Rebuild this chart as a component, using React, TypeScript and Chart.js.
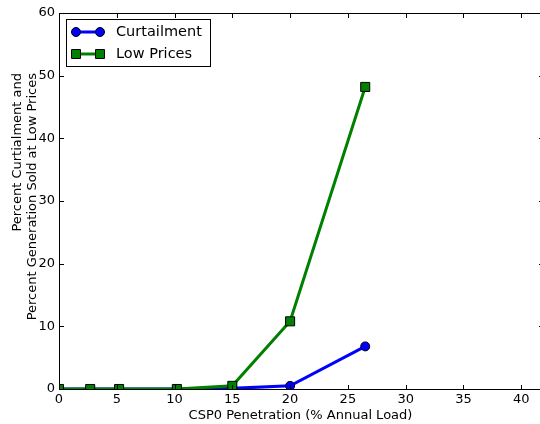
import React, { useEffect, useRef } from "react";
import { Chart, registerables } from "chart.js";

Chart.register(...registerables);

const penetration = [0, 2.7, 5.2, 10.2, 15, 20, 26.5];
const curtailment = [0, 0, 0, 0, 0.1, 0.5, 6.8];
const lowPrices = [0, 0, 0, 0, 0.5, 10.8, 48.2];
const xTicks = [0, 5, 10, 15, 20, 25, 30, 35, 40];
const yTicks = [0, 10, 20, 30, 40, 50, 60];
const seriesNames = ["Curtailment", "Low Prices"];
const xTitle = "CSP0 Penetration (% Annual Load)";
const yTitleLines = ["Percent Curtialment and", "Percent Generation Sold at Low Prices"];

const FONT = "'DejaVu Sans', sans-serif";
const BLUE = "#0000ff";
const GREEN = "#008000";

const decorPlugin = {
  id: "decor",
  afterDraw(chart: any) {
    const ctx = chart.ctx;
    const a = chart.chartArea;
    const xs = chart.scales.x;
    const ys = chart.scales.y;
    const left = Math.round(xs.getPixelForValue(xs.min));
    const right = Math.round(xs.getPixelForValue(xs.max));
    const top = Math.round(a.top);
    const bottom = Math.round(a.bottom);
    ctx.save();
    ctx.fillStyle = "#000";
    ctx.fillRect(left, top, right - left, 1);
    for (const t of xTicks) {
      const px = Math.round(xs.getPixelForValue(t));
      ctx.fillRect(px, bottom - 4, 1, 4);
      ctx.fillRect(px, top, 1, 5);
    }
    for (const t of yTicks) {
      const py = Math.round(ys.getPixelForValue(t));
      ctx.fillRect(left, py, 5, 1);
      ctx.fillRect(right - 4, py, 4, 1);
    }

    // legend
    const lx = 66.5, ly = 19.5, lw = 144, lh = 47;
    ctx.strokeStyle = "#000";
    ctx.lineWidth = 1;
    ctx.fillStyle = "#fff";
    ctx.fillRect(lx, ly, lw, lh);
    ctx.strokeRect(lx, ly, lw, lh);
    const rows = [
      { name: seriesNames[0], color: BLUE, y: 32, shape: "circle" },
      { name: seriesNames[1], color: GREEN, y: 54, shape: "square" },
    ];
    for (const r of rows) {
      ctx.strokeStyle = r.color;
      ctx.lineWidth = 3;
      ctx.beginPath();
      ctx.moveTo(76, r.y);
      ctx.lineTo(100, r.y);
      ctx.stroke();
      for (const mx of [76, 100]) {
        ctx.fillStyle = r.color;
        ctx.strokeStyle = "#000";
        ctx.lineWidth = 1;
        ctx.beginPath();
        if (r.shape === "circle") ctx.arc(mx, r.y, 4.5, 0, Math.PI * 2);
        else ctx.rect(mx - 4.5, r.y - 4.5, 9, 9);
        ctx.fill();
        ctx.stroke();
      }
      ctx.fillStyle = "#000";
      ctx.font = `14.5px ${FONT}`;
      ctx.textBaseline = "middle";
      ctx.textAlign = "left";
      ctx.fillText(r.name, 116, r.y + 0.5);
    }

    // axis titles
    ctx.fillStyle = "#000";
    ctx.font = `13px ${FONT}`;
    ctx.textAlign = "center";
    ctx.textBaseline = "alphabetic";
    ctx.fillText(xTitle, 300.5, 419);
    ctx.save();
    ctx.translate(0, 73);
    ctx.rotate(-Math.PI / 2);
    ctx.textAlign = "right";
    ctx.fillText(yTitleLines[0], 0, 20.5);
    ctx.fillText(yTitleLines[1], 0, 35.5);
    ctx.restore();
    ctx.restore();
  },
};

export default function App() {
  const ref = useRef<HTMLCanvasElement>(null);
  useEffect(() => {
    if (!ref.current) return;
    const chart = new Chart(ref.current, {
      type: "line",
      data: {
        datasets: [
          {
            label: seriesNames[0],
            data: penetration.map((x, i) => ({ x, y: curtailment[i] })),
            borderColor: BLUE,
            backgroundColor: BLUE,
            borderWidth: 3,
            pointStyle: "circle",
            pointRadius: 4.5,
            pointBorderColor: "#000",
            pointBorderWidth: 1,
            pointBackgroundColor: BLUE,
            order: 1,
            tension: 0,
            clip: 0,
          },
          {
            label: seriesNames[1],
            data: penetration.map((x, i) => ({ x, y: lowPrices[i] })),
            borderColor: GREEN,
            backgroundColor: GREEN,
            borderWidth: 3,
            pointStyle: "rect",
            pointRadius: 6.4,
            pointBorderColor: "#000",
            pointBorderWidth: 1,
            pointBackgroundColor: GREEN,
            order: 0,
            tension: 0,
            clip: 0,
          },
        ],
      },
      options: {
        animation: false,
        responsive: false,
        maintainAspectRatio: false,
        layout: { padding: { left: 0, top: 13, right: 4, bottom: 0 } },
        plugins: { legend: { display: false }, tooltip: { enabled: false } },
        scales: {
          x: {
            type: "linear",
            min: 0,
            max: 41.85,
            grid: { display: false, drawTicks: false },
            border: { display: true, color: "#000", width: 1 },
            afterBuildTicks: (s: any) => {
              s.ticks = xTicks.map((v) => ({ value: v }));
            },
            afterFit: (s: any) => {
              s.height = 35;
            },
            ticks: {
              color: "#000",
              font: { family: FONT, size: 13 },
              padding: 3,
              maxRotation: 0,
              autoSkip: false,
            },
          },
          y: {
            type: "linear",
            min: 0,
            max: 60,
            grid: { display: false, drawTicks: false },
            border: { display: true, color: "#000", width: 1 },
            afterBuildTicks: (s: any) => {
              s.ticks = yTicks.map((v) => ({ value: v }));
            },
            afterFit: (s: any) => {
              s.width = 59;
            },
            ticks: {
              color: "#000",
              font: { family: FONT, size: 13 },
              padding: 4,
              autoSkip: false,
            },
          },
        },
      },
      plugins: [decorPlugin],
    });
    return () => chart.destroy();
  }, []);
  return (
    <div
      style={{
        position: "fixed",
        left: 0,
        top: 0,
        width: 540,
        height: 424,
        overflow: "hidden",
        background: "#fff",
      }}
    >
      <canvas ref={ref} width={550} height={424} style={{ display: "block" }} />
    </div>
  );
}
